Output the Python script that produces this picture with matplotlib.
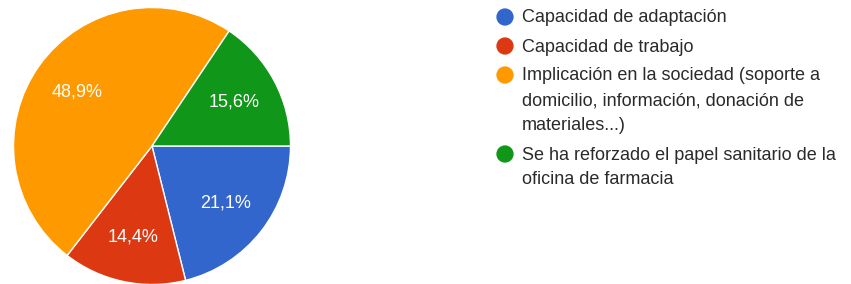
import matplotlib
matplotlib.use('Agg')
import matplotlib.pyplot as plt

labels = ['Capacidad de adaptación',
          'Capacidad de trabajo',
          'Implicación en la sociedad (soporte a\ndomicilio, información, donación de\nmateriales...)',
          'Se ha reforzado el papel sanitario de la\noficina de farmacia']
values = [21.1, 14.4, 48.9, 15.6]
pct_text = ['21,1%', '14,4%', '48,9%', '15,6%']
colors = ['#3366cc', '#dc3912', '#ff9900', '#109618']

plt.rcParams['font.family'] = ['Liberation Sans', 'DejaVu Sans']

fig = plt.figure(figsize=(8.51, 2.84), dpi=100)

# pie
ax = fig.add_axes([13.5 / 851, -0.5 / 284, 277 / 851, 277 / 284])
wedges, texts = ax.pie(values, colors=colors, startangle=0, counterclock=False,
                       radius=1, labels=pct_text, labeldistance=0.67,
                       wedgeprops=dict(edgecolor='white', linewidth=1))
for t in texts:
    t.set_color('white')
    t.set_fontsize(13)
    t.set_ha('center')
    t.set_va('center')
ax.set_xlim(-1, 1)
ax.set_ylim(-1, 1)
ax.set_aspect('equal')
ax.axis('off')

# legend drawn in pixel coords
lg = fig.add_axes([0, 0, 1, 1], zorder=-1)
lg.set_xlim(0, 851)
lg.set_ylim(284, 0)
lg.axis('off')
y = 17
for lab, c in zip(labels, colors):
    lg.scatter([505], [y], s=155, color=c, edgecolors='none')
    for i, line in enumerate(lab.split('\n')):
        lg.text(522, y + i * 25 + 1, line, fontsize=13, color='#2a2a2a',
                ha='left', va='center')
    y += 25 * (len(lab.split('\n')) - 1) + 29

fig.savefig('out.png', dpi=100)
